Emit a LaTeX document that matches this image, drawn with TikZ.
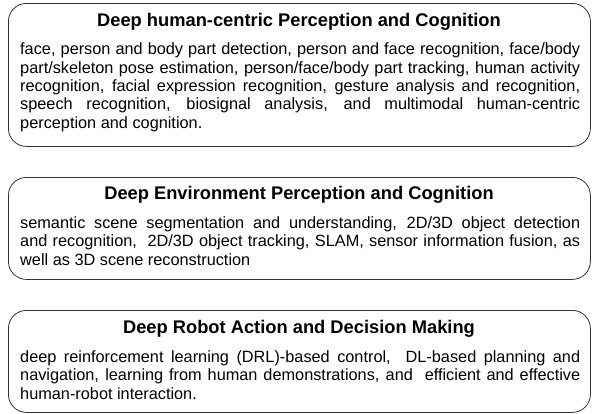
\documentclass[tikz,border=0pt]{standalone}
\usepackage{fontspec}
\setmainfont{Liberation Sans}
\begin{document}
\begin{tikzpicture}[x=1pt,y=1pt,line join=round,line cap=round,
	box/.style={draw=black!80,line width=0.8pt,rounded corners=18pt,
		minimum width=582pt,inner sep=0pt,anchor=north west},
	head/.style={font=\fontsize{18.3}{21}\selectfont\bfseries,inner sep=0pt,anchor=base},
	body/.style={font=\fontsize{16.3}{18.4}\selectfont,text width=560pt,
		align=justify,inner sep=0pt,anchor=north west}]
	\def\xl{8}
	\def\xm{299}
	\def\xt{20}
	\def\up{12.88}
	\useasboundingbox (0,0) rectangle (592,-413);
	% three boxes
	\node[box,minimum height=143pt] (perc) at (\xl,-3) {};
	\node[box,minimum height=102pt] (env) at (\xl,-177) {};
	\node[box,minimum height=102pt] (act) at (\xl,-310) {};
	% titles
	\node[head] (percT) at (\xm,-26) {Deep human-centric Perception and Cognition};
	\node[head] (envT) at (\xm,-199.5) {Deep Environment Perception and Cognition};
	\node[head] (actT) at (\xm,-333) {Deep Robot Action and Decision Making};
	% texts
	\node[body] (percB) at (\xt,-54.5+\up) {\strut face, person and body part
		detection, person and face recognition, face/body\linebreak
		part/skeleton pose estimation, person/face/body part tracking, human
		activity\linebreak recognition, facial expression recognition, gesture
		analysis and recognition,\linebreak speech recognition, biosignal
		analysis, and multimodal human-centric\linebreak perception and
		cognition.};
	\node[body] (envB) at (\xt,-228+\up) {\strut semantic scene segmentation
		and understanding, 2D/3D object detection\linebreak and recognition,\ \
		2D/3D object tracking, SLAM, sensor information fusion, as\linebreak
		well as 3D scene reconstruction};
	\node[body] (actB) at (\xt,-362+\up) {\strut deep reinforcement learning
		(DRL)-based control,\ \ DL-based planning and\linebreak navigation,
		learning from human demonstrations, and\ \ efficient and
		effective\linebreak human-robot interaction.};
\end{tikzpicture}
\end{document}
